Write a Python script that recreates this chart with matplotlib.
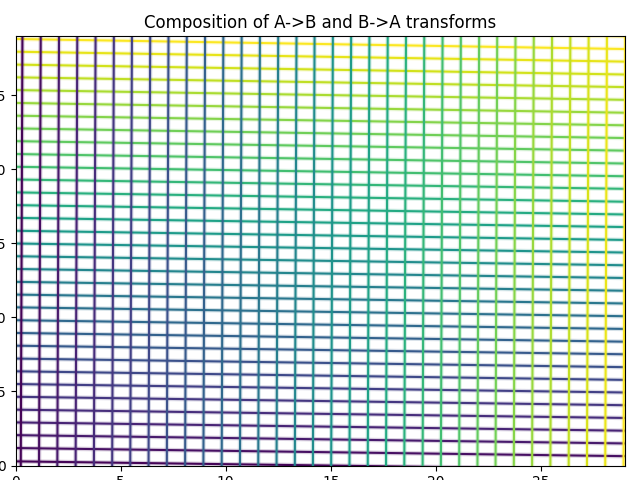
import numpy as np
import matplotlib.pyplot as plt
from matplotlib.colors import Normalize

# horizontal grid lines: y value at x=0 and at x=29
h_left_y = [0.28, 1.18, 2.05, 2.91, 3.77, 4.64, 5.50, 6.36, 7.22, 8.09,
            8.95, 9.81, 10.68, 11.54, 12.40, 13.27, 14.13, 14.99, 15.85, 16.72,
            17.58, 18.44, 19.31, 20.17, 21.03, 21.90, 22.76, 23.62, 24.48, 25.35,
            26.21, 27.07, 27.94, 28.80, 29.66]
h_right_y = [-0.27, 0.63, 1.49, 2.35, 3.21, 4.07, 4.93, 5.78, 6.64, 7.51,
             8.36, 9.22, 10.08, 10.94, 11.80, 12.66, 13.52, 14.38, 15.23, 16.10,
             16.95, 17.81, 18.68, 19.53, 20.39, 21.26, 22.11, 22.97, 23.82, 24.69,
             25.55, 26.40, 27.27, 28.12, 28.98]

# vertical grid lines: x value at y=0 and at y=29
v_bottom_x = [0.25, 1.12, 1.99, 2.86, 3.73, 4.60, 5.46, 6.33, 7.20, 8.07,
              8.94, 9.81, 10.68, 11.55, 12.42, 13.29, 14.15, 15.02, 15.89, 16.76,
              17.63, 18.50, 19.37, 20.24, 21.11, 21.98, 22.84, 23.71, 24.58, 25.45,
              26.32, 27.19, 28.06, 28.93]
v_top_x = [0.33, 1.20, 2.07, 2.94, 3.81, 4.68, 5.54, 6.41, 7.28, 8.15,
           9.02, 9.89, 10.76, 11.63, 12.50, 13.37, 14.23, 15.10, 15.97, 16.84,
           17.71, 18.58, 19.45, 20.32, 21.19, 22.06, 22.92, 23.79, 24.66, 25.53,
           26.40, 27.27, 28.14, 29.01]

x_edges = [0, 29]
y_edges = [0, 29]

fig = plt.figure(figsize=(6.4, 4.8), dpi=100)
ax = fig.add_axes([15.5/640, 14.5/480, 609.5/640, 429.5/480])
cmap = plt.get_cmap('viridis')
norm = Normalize(vmin=0, vmax=29)

# faint wide line under each solid one
for yl, yr in zip(h_left_y, h_right_y):
    c = cmap(norm(yl))
    ax.plot(x_edges, [yl, yr], color=c, lw=3.2, alpha=0.2)
    ax.plot(x_edges, [yl, yr], color=c, lw=1.5)

for xb, xt in zip(v_bottom_x, v_top_x):
    c = cmap(norm(xb))
    ax.plot([xb, xt], y_edges, color=c, lw=3.2, alpha=0.2)
    ax.plot([xb, xt], y_edges, color=c, lw=1.5)

ax.set_xlim(0, 29)
ax.set_ylim(0, 29)
ax.set_title('Composition of A->B and B->A transforms')

fig.savefig('out.png', dpi=100)
